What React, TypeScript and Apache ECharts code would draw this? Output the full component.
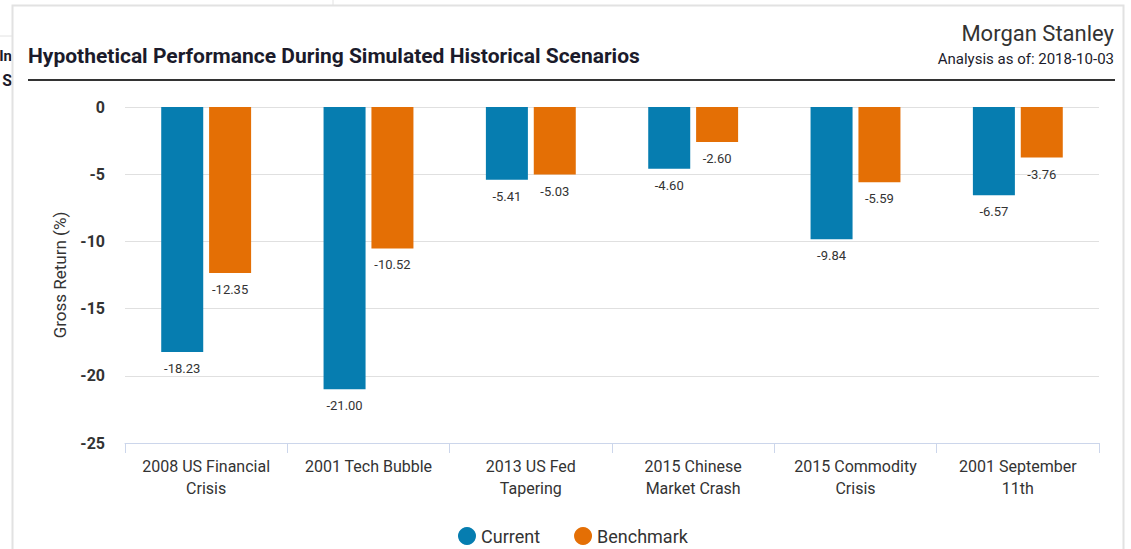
import React, { useEffect, useRef } from "react";
import * as echarts from "echarts";

const categories = [
  "2008 US Financial\nCrisis",
  "2001 Tech Bubble",
  "2013 US Fed\nTapering",
  "2015 Chinese\nMarket Crash",
  "2015 Commodity\nCrisis",
  "2001 September\n11th",
];
const currentValues = [-18.23, -21.0, -5.41, -4.6, -9.84, -6.57];
const benchmarkValues = [-12.35, -10.52, -5.03, -2.6, -5.59, -3.76];
const seriesNames = ["Current", "Benchmark"];
const yMin = -25;
const yMax = 0;
const yInterval = 5;
const titleText = "Hypothetical Performance During Simulated Historical Scenarios";
const brandText = "Morgan Stanley";
const dateText = "Analysis as of: 2018-10-03";
const yAxisName = "Gross Return (%)";

const FONT = "Roboto, 'Noto Sans', sans-serif";
const BLUE = "#067db0";
const ORANGE = "#e46f05";

export default function App() {
  const ref = useRef<HTMLDivElement>(null);
  useEffect(() => {
    if (!ref.current) return;
    const chart = echarts.init(ref.current, undefined, { renderer: "svg" });
    const label = {
      show: true,
      position: "bottom",
      distance: 10,
      color: "#333",
      fontSize: 13,
      fontFamily: FONT,
      formatter: (p: any) => Number(p.value).toFixed(2),
    };
    chart.setOption({
      animation: false,
      backgroundColor: "#ffffff",
      textStyle: { fontFamily: FONT },
      title: {
        text: titleText,
        left: 28,
        top: 45,
        padding: 0,
        textStyle: { fontSize: 21, fontWeight: "bold", color: "#1b1b2b", fontFamily: FONT },
      },
      graphic: [
        { type: "line", shape: { x1: 333, y1: 0, x2: 333, y2: 6 }, style: { stroke: "#e2e2e2", lineWidth: 1 }, z: -1 },
        { type: "line", shape: { x1: 0, y1: 36, x2: 12, y2: 36 }, style: { stroke: "#e2e2e2", lineWidth: 1 }, z: -1 },
        { type: "text", x: 12, y: 56, style: { text: "In", fontSize: 15, fontWeight: "bold", fill: "#1b1b2b", fontFamily: FONT, textAlign: "right", textVerticalAlign: "middle" }, z: -1 },
        { type: "text", x: 12, y: 80, style: { text: "S", fontSize: 16, fontWeight: "bold", fill: "#1b1b2b", fontFamily: FONT, textAlign: "right", textVerticalAlign: "middle" }, z: -1 },
        {
          type: "rect",
          shape: { x: 12.5, y: 5.5, width: 1111, height: 560 },
          style: { fill: "none", stroke: "#e2e2e2", lineWidth: 2 },
          z: -1,
          silent: true,
        },
        { type: "line", shape: { x1: 28, y1: 80, x2: 1115, y2: 80 }, style: { stroke: "#333333", lineWidth: 2 }, z: 3 },
        {
          type: "text",
          x: 1114,
          y: 33,
          style: { text: brandText, fontSize: 22, fill: "#333", fontFamily: FONT, textAlign: "right", textVerticalAlign: "middle" },
          z: 3,
        },
        {
          type: "text",
          x: 1114,
          y: 59,
          style: { text: dateText, fontSize: 15, fill: "#1b1b2b", fontFamily: FONT, textAlign: "right", textVerticalAlign: "middle" },
          z: 3,
        },
      ],
      legend: {
        data: seriesNames,
        left: 453,
        top: 522,
        icon: "circle",
        itemWidth: 18,
        itemHeight: 18,
        itemGap: 34,
        textStyle: { fontSize: 18, color: "#333", fontFamily: FONT },
      },
      grid: { left: 125, right: 32, top: 107, bottom: 106, containLabel: false },
      xAxis: {
        type: "category",
        data: categories,
        axisLine: { onZero: false, lineStyle: { color: "#ccd6eb", width: 1 } },
        axisTick: { show: true, alignWithLabel: false, length: 10, lineStyle: { color: "#ccd6eb" } },
        axisLabel: { color: "#333", fontSize: 16, lineHeight: 22, margin: 12, interval: 0, fontFamily: FONT },
      },
      yAxis: {
        type: "value",
        min: yMin,
        max: yMax,
        interval: yInterval,
        name: yAxisName,
        nameLocation: "middle",
        nameGap: 57,
        nameTextStyle: { fontSize: 17, color: "#333", fontFamily: FONT },
        axisLine: { show: false },
        axisTick: { show: false },
        axisLabel: { color: "#333", fontSize: 16, fontWeight: "bold", margin: 20, fontFamily: FONT },
        splitLine: { lineStyle: { color: "#e0e0e0", width: 1 } },
      },
      series: [
        {
          name: seriesNames[0],
          type: "bar",
          data: currentValues,
          barWidth: 42,
          barGap: "14%",
          itemStyle: { color: BLUE },
          label,
          z: 4,
        },
        {
          name: seriesNames[1],
          type: "bar",
          data: benchmarkValues,
          barWidth: 42,
          itemStyle: { color: ORANGE },
          label,
          z: 4,
        },
      ],
    });
    return () => chart.dispose();
  }, []);
  return (
    <div
      ref={ref}
      style={{ position: "fixed", left: 0, top: 0, width: 1131, height: 549 }}
    />
  );
}
